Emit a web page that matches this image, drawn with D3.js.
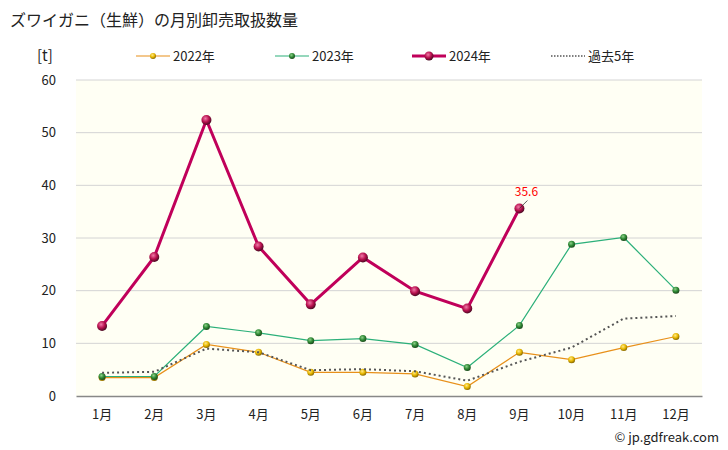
<!DOCTYPE html>
<html>
<head>
<meta charset="utf-8">
<script src="https://cdn.jsdelivr.net/npm/d3@7"></script>
<style>
  body { margin: 0; background: #fff; }
  svg { font-family: "Noto Sans CJK JP", "Noto Sans", sans-serif; }
</style>
</head>
<body>
<div id="chart"></div>
<script>
// data
var months = ['1月', '2月', '3月', '4月', '5月', '6月', '7月', '8月', '9月', '10月', '11月', '12月'];
var yTicks = [0, 10, 20, 30, 40, 50, 60];
var v2022 = [3.5, 3.5, 9.8, 8.3, 4.5, 4.5, 4.2, 1.8, 8.3, 6.9, 9.2, 11.3];
var v2023 = [3.7, 3.7, 13.2, 12.0, 10.5, 10.9, 9.8, 5.4, 13.4, 28.8, 30.1, 20.1];
var v2024 = [13.3, 26.4, 52.4, 28.4, 17.4, 26.3, 19.9, 16.6, 35.6];
var vPast5 = [4.4, 4.6, 9.0, 8.3, 4.9, 5.1, 4.7, 2.9, 6.5, 9.2, 14.7, 15.2];

var W = 728, H = 450;
var mLeft = 76, mRight = 702, mTop = 80, mBottom = 396;

var svg = d3.select('#chart').append('svg').attr('width', W).attr('height', H);

var defs = svg.append('defs');
function ball(id, light, base, dark) {
  var g = defs.append('radialGradient').attr('id', id)
    .attr('cx', '40%').attr('cy', '35%').attr('r', '65%');
  g.append('stop').attr('offset', '0%').attr('stop-color', light);
  g.append('stop').attr('offset', '55%').attr('stop-color', base);
  g.append('stop').attr('offset', '100%').attr('stop-color', dark);
}
ball('g22', '#ffe98a', '#e8b800', '#8a6a00');
ball('g23', '#8fd08a', '#2f8a35', '#1c4a1c');
ball('g24', '#f07aa8', '#b8104e', '#4a0a22');

var x = d3.scaleBand().domain(months).range([mLeft, mRight]);
var y = d3.scaleLinear().domain([0, 60]).range([mBottom, mTop]);

svg.append('rect')
  .attr('x', mLeft).attr('y', mTop)
  .attr('width', mRight - mLeft).attr('height', mBottom - mTop)
  .attr('fill', '#fffff4');

svg.append('g').selectAll('line')
  .data(yTicks.filter(function (d) { return d > 0; }))
  .enter().append('line')
    .attr('x1', mLeft).attr('x2', mRight)
    .attr('y1', function (d) { return y(d); })
    .attr('y2', function (d) { return y(d); })
    .attr('stroke', '#d4d4d4').attr('stroke-width', 1);

var yAxis = d3.axisLeft(y).tickValues(yTicks).tickSize(0).tickPadding(20);
var gy = svg.append('g').attr('transform', 'translate(' + mLeft + ',0)').call(yAxis);
gy.select('.domain').remove();
gy.selectAll('text').attr('font-size', 13).attr('fill', '#222')
  .attr('font-family', '"Noto Sans CJK JP", sans-serif');

var xAxis = d3.axisBottom(x).tickSize(0).tickPadding(14);
var gx = svg.append('g').attr('transform', 'translate(0,' + mBottom + ')').call(xAxis);
gx.select('.domain').attr('stroke', '#888').attr('stroke-width', 1.5);
gx.selectAll('text').attr('font-size', 13).attr('fill', '#222')
  .attr('font-family', '"Noto Sans CJK JP", sans-serif');

function cx(d, i) { return x(months[i]) + x.bandwidth() / 2; }

var line = d3.line().x(cx).y(function (d) { return y(d); });

var series = [
  { data: v2022, color: '#e8901a', width: 1.2, grad: 'g22', r: 3.5 },
  { data: v2023, color: '#2cb07a', width: 1.2, grad: 'g23', r: 3.5 },
  { data: vPast5, color: '#555', width: 2, dash: '2,3' },
  { data: v2024, color: '#c0005a', width: 3, grad: 'g24', r: 5 }
];

series.forEach(function (s) {
  svg.append('path').datum(s.data)
    .attr('d', line)
    .attr('fill', 'none')
    .attr('stroke', s.color)
    .attr('stroke-width', s.width)
    .attr('stroke-dasharray', s.dash || null);
  if (s.grad) {
    svg.append('g').selectAll('circle')
      .data(s.data).enter().append('circle')
        .attr('cx', cx)
        .attr('cy', function (d) { return y(d); })
        .attr('r', s.r)
        .attr('fill', 'url(#' + s.grad + ')');
  }
});

// label on the last 2024 point
var lastI = v2024.length - 1;
var lx = cx(v2024[lastI], lastI), ly = y(v2024[lastI]);
svg.append('line')
  .attr('x1', lx).attr('y1', ly)
  .attr('x2', lx + 8).attr('y2', ly - 8)
  .attr('stroke', '#333').attr('stroke-width', 0.8);
svg.append('text')
  .attr('x', lx + 7).attr('y', ly - 13)
  .attr('text-anchor', 'middle')
  .attr('font-size', 12).attr('fill', '#ff0000')
  .text(v2024[lastI]);

// title, unit, legend, credit
svg.append('text').attr('x', 10).attr('y', 26)
  .attr('font-size', 16).attr('fill', '#222')
  .text('ズワイガニ（生鮮）の月別卸売取扱数量');

svg.append('text').attr('x', 37).attr('y', 61)
  .attr('font-size', 15).attr('fill', '#222').text('[t]');

var legend = [
  { name: '2022年', color: '#e8901a', width: 1.2, grad: 'g22', r: 3, x: 136 },
  { name: '2023年', color: '#2cb07a', width: 1.2, grad: 'g23', r: 3, x: 275 },
  { name: '2024年', color: '#c0005a', width: 3, grad: 'g24', r: 4.5, x: 412 },
  { name: '過去5年', color: '#555', width: 1.5, dash: '1.5,1.5', x: 551 }
];
legend.forEach(function (l) {
  var g = svg.append('g').attr('transform', 'translate(' + l.x + ',56)');
  g.append('line').attr('x1', 0).attr('x2', 34).attr('y1', 0).attr('y2', 0)
    .attr('stroke', l.color).attr('stroke-width', l.width)
    .attr('stroke-dasharray', l.dash || null);
  if (l.grad) {
    g.append('circle').attr('cx', 17).attr('cy', 0).attr('r', l.r)
      .attr('fill', 'url(#' + l.grad + ')');
  }
  g.append('text').attr('x', 37).attr('y', 5)
    .attr('font-size', 13).attr('fill', '#222').text(l.name);
});

svg.append('text').attr('x', 719).attr('y', 442)
  .attr('text-anchor', 'end')
  .attr('font-size', 13).attr('fill', '#222')
  .text('© jp.gdfreak.com');
</script>
</body>
</html>
